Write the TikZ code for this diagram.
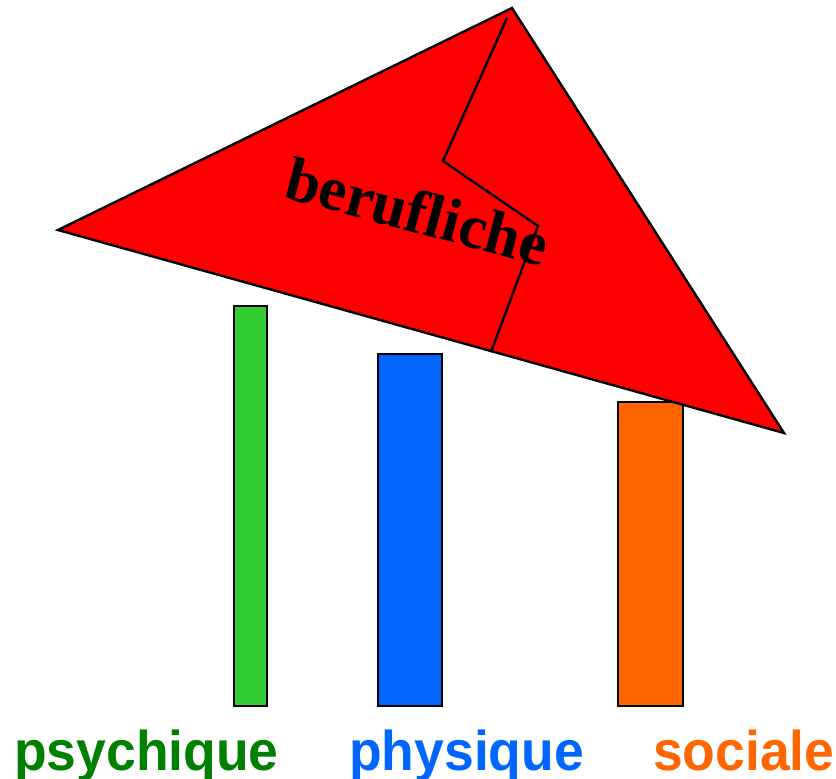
\documentclass[tikz,border=0pt]{standalone}
\usepackage{fontspec}
\usepackage{graphicx}
\newfontfamily\labfont{Liberation Sans}
\newfontfamily\serfont{Liberation Serif}
\definecolor{bargreen}{HTML}{33CC33}
\definecolor{barblue}{HTML}{0066FF}
\definecolor{barorange}{HTML}{FF6600}
\definecolor{txtgreen}{HTML}{008000}
\begin{document}
\begin{tikzpicture}[x=1pt,y=-1pt,
  bar/.style={draw=black, line width=2.4pt},
  roof/.style={fill=red, draw=black, line width=2.4pt, line join=miter},
  lab/.style={inner sep=0pt, anchor=base west, font=\labfont\bfseries\fontsize{56}{60}\selectfont}]
\useasboundingbox (0,0) rectangle (836,779);
% pillars
\draw[bar, fill=bargreen] (234,306) rectangle (267,706);
\draw[bar, fill=barblue] (378,354) rectangle (442,706);
\draw[bar, fill=barorange] (618,402) rectangle (683,706);
% roof
\draw[roof] (512,8) -- (58,230) -- (784,433) -- cycle;
\draw[line width=2.4pt] (507,18) -- (443,161) -- (538,226) -- (491,352);
\node[inner sep=0pt, anchor=base west, rotate=-15, font=\serfont\bfseries\fontsize{62}{66}\selectfont] (roofl) at (282,197) {berufliche};
% labels
\node[lab, text=txtgreen] (l1) at (14,770) {\scalebox{0.955}[1]{psychique}};
\node[lab, text=barblue] (l2) at (349,770) {\scalebox{0.955}[1]{physique}};
\node[lab, text=barorange] (l3) at (653,770) {\scalebox{0.955}[1]{sociale}};
\end{tikzpicture}
\end{document}
